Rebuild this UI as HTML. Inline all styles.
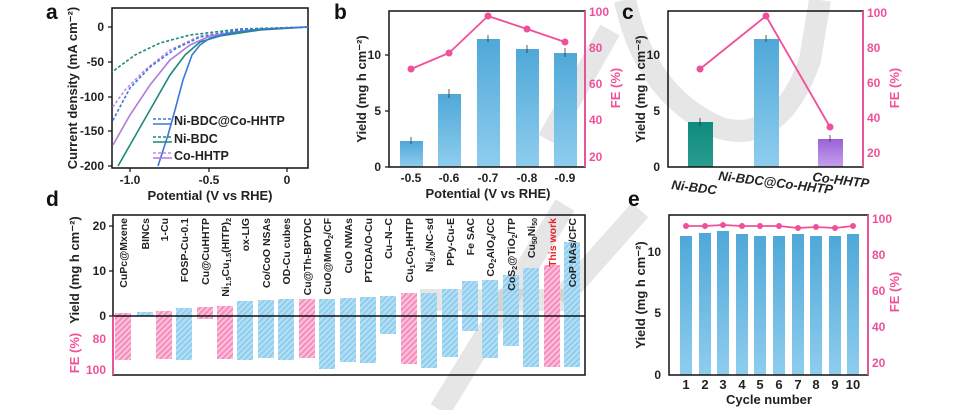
<!DOCTYPE html>
<html><head><meta charset="utf-8"><style>
html,body{margin:0;padding:0;background:#fff;}
svg{display:block;font-family:"Liberation Sans",Arial,sans-serif;}
.t{font-size:12px;font-weight:bold;fill:#222;}
.p{font-size:12px;font-weight:bold;fill:#f0509a;}
.lab{font-size:13px;font-weight:bold;fill:#222;}
.dl{font-size:10.5px;fill:#222;font-weight:bold;}
.L{font-size:21px;font-weight:bold;fill:#111;}
</style></head><body>
<svg width="963" height="410" viewBox="0 0 963 410" xmlns="http://www.w3.org/2000/svg">
<defs>
<linearGradient id="gb" x1="0" y1="0" x2="0" y2="1"><stop offset="0" stop-color="#4fa8d8"/><stop offset="1" stop-color="#8fcdee"/></linearGradient>
<linearGradient id="gt" x1="0" y1="0" x2="0" y2="1"><stop offset="0" stop-color="#0e8a7e"/><stop offset="1" stop-color="#2a9d8f"/></linearGradient>
<linearGradient id="gp" x1="0" y1="0" x2="0" y2="1"><stop offset="0" stop-color="#9a62d6"/><stop offset="1" stop-color="#c7a0ee"/></linearGradient>
<pattern id="hb" width="4" height="4" patternUnits="userSpaceOnUse" patternTransform="rotate(45)"><rect width="4" height="4" fill="#8fcdee"/><rect width="2" height="4" fill="#b5e0f5"/></pattern>
<pattern id="hp" width="4" height="4" patternUnits="userSpaceOnUse" patternTransform="rotate(45)"><rect width="4" height="4" fill="#f58cbc"/><rect width="2" height="4" fill="#fbc3dc"/></pattern>
</defs>

<!-- watermark -->
<g stroke="#9a9a9a" stroke-opacity="0.25" fill="none" stroke-width="22">
<path d="M625,0 Q645,95 720,128 Q780,145 810,60 L820,0"/>
<path d="M610,30 L548,140"/>
<path d="M565,205 L440,410"/>
<path d="M420,300 L570,300"/>
<path d="M640,210 L560,300"/>
</g>

<!-- ===== Panel a ===== -->
<text class="L" x="46" y="19">a</text>
<rect x="112" y="8" width="196" height="160" fill="none" stroke="#111" stroke-width="1.5"/>
<g class="t" text-anchor="end">
<text x="104" y="31">0</text><text x="104" y="66">-50</text><text x="104" y="101">-100</text><text x="104" y="135">-150</text><text x="104" y="170">-200</text></g>
<g stroke="#111" stroke-width="1.2"><line x1="108" y1="27" x2="112" y2="27"/><line x1="108" y1="62" x2="112" y2="62"/><line x1="108" y1="97" x2="112" y2="97"/><line x1="108" y1="131" x2="112" y2="131"/><line x1="108" y1="166" x2="112" y2="166"/>
<line x1="130" y1="168" x2="130" y2="172"/><line x1="209" y1="168" x2="209" y2="172"/><line x1="287" y1="168" x2="287" y2="172"/></g>
<g class="t" text-anchor="middle"><text x="130" y="184">-1.0</text><text x="209" y="184">-0.5</text><text x="287" y="184">0</text></g>
<text class="lab" x="210" y="200" text-anchor="middle">Potential (V vs RHE)</text>
<text class="lab" transform="translate(77,88) rotate(-90)" text-anchor="middle">Current density (mA cm⁻²)</text>
<g fill="none" stroke-width="1.6">
<polyline stroke="#1a8a7a" stroke-dasharray="3,2" points="308,27 240,29 190,35 160,43 135,55 112,72"/>
<polyline stroke="#c58ae6" stroke-dasharray="3,2" points="308,27 240,30 200,36 170,50 145,70 125,90 112,108"/>
<polyline stroke="#3a78d8" stroke-dasharray="3,2" points="308,27 240,30 200,37 175,49 150,67 130,88 112,122"/>
<polyline stroke="#b07ae0" points="308,27 250,30 210,36 190,45 170,60 150,85 130,115 113,145"/>
<polyline stroke="#1a8a7a" points="308,27 260,30 220,36 200,42 185,55 170,75 150,110 130,145 118,166"/>
<polyline stroke="#3a78d8" points="308,27 260,29 230,33 210,38 200,45 192,55 183,80 175,110 168,135 158,166"/>
</g>
<g stroke-width="1.6">
<line x1="153" y1="119" x2="172" y2="119" stroke="#3a78d8" stroke-dasharray="3,2"/><line x1="153" y1="124" x2="172" y2="124" stroke="#3a78d8"/>
<line x1="153" y1="137" x2="172" y2="137" stroke="#1a8a7a" stroke-dasharray="3,2"/><line x1="153" y1="142" x2="172" y2="142" stroke="#1a8a7a"/>
<line x1="153" y1="153" x2="172" y2="153" stroke="#c58ae6" stroke-dasharray="3,2"/><line x1="153" y1="158" x2="172" y2="158" stroke="#b07ae0"/>
</g>
<g style="font-size:12.5px;font-weight:bold;fill:#222"><text x="174" y="125">Ni-BDC@Co-HHTP</text><text x="174" y="143">Ni-BDC</text><text x="174" y="160">Co-HHTP</text></g>

<!-- ===== Panel b ===== -->
<text class="L" x="334" y="19">b</text>
<g fill="url(#gb)">
<rect x="400" y="141" width="23" height="26"/><rect x="438" y="94" width="23" height="73"/><rect x="477" y="39" width="23" height="128"/><rect x="516" y="49" width="23" height="118"/><rect x="554" y="53" width="23" height="114"/></g>
<g stroke="#333" stroke-width="0.8"><line x1="411" y1="137" x2="411" y2="144"/><line x1="449" y1="89" x2="449" y2="98"/><line x1="488" y1="35" x2="488" y2="42"/><line x1="527" y1="45" x2="527" y2="53"/><line x1="565" y1="48" x2="565" y2="57"/></g>
<rect x="389" y="11" width="196" height="156" fill="none" stroke="#111" stroke-width="1.5"/>
<line x1="585" y1="11" x2="585" y2="167" stroke="#f0509a" stroke-width="1.8"/>
<g stroke="#111" stroke-width="1.2"><line x1="385" y1="167" x2="389" y2="167"/><line x1="385" y1="111" x2="389" y2="111"/><line x1="385" y1="55" x2="389" y2="55"/></g>
<g class="t" text-anchor="end"><text x="381" y="171">0</text><text x="381" y="115">5</text><text x="381" y="59">10</text></g>
<g class="t" text-anchor="middle"><text x="411" y="182">-0.5</text><text x="449" y="182">-0.6</text><text x="488" y="182">-0.7</text><text x="527" y="182">-0.8</text><text x="565" y="182">-0.9</text></g>
<text class="lab" x="488" y="198" text-anchor="middle">Potential (V vs RHE)</text>
<text class="lab" transform="translate(366,89) rotate(-90)" text-anchor="middle">Yield (mg h cm⁻²)</text>
<g class="p"><text x="589" y="16">100</text><text x="589" y="52">80</text><text x="589" y="88">60</text><text x="589" y="124">40</text><text x="589" y="161">20</text></g>
<text class="lab" style="fill:#f0509a" transform="translate(620,88) rotate(-90)" text-anchor="middle">FE (%)</text>
<polyline fill="none" stroke="#f0509a" stroke-width="1.8" points="411,69 449,53 488,16 527,29 565,42"/>
<g fill="#f0509a"><circle cx="411" cy="69" r="3.5"/><circle cx="449" cy="53" r="3.5"/><circle cx="488" cy="16" r="3.5"/><circle cx="527" cy="29" r="3.5"/><circle cx="565" cy="42" r="3.5"/></g>

<!-- ===== Panel c ===== -->
<text class="L" x="622" y="19">c</text>
<rect x="688" y="122" width="25" height="45" fill="url(#gt)"/>
<rect x="754" y="39" width="25" height="128" fill="url(#gb)"/>
<rect x="818" y="139" width="25" height="28" fill="url(#gp)"/>
<g stroke="#333" stroke-width="0.8"><line x1="700" y1="118" x2="700" y2="126"/><line x1="766" y1="35" x2="766" y2="42"/><line x1="830" y1="135" x2="830" y2="142"/></g>
<rect x="668" y="11" width="195" height="156" fill="none" stroke="#111" stroke-width="1.5"/>
<line x1="863" y1="11" x2="863" y2="167" stroke="#f0509a" stroke-width="1.8"/>
<g class="t" text-anchor="end"><text x="660" y="171">0</text><text x="660" y="115">5</text><text x="660" y="59">10</text></g>
<g class="p"><text x="867" y="17">100</text><text x="867" y="52">80</text><text x="867" y="87">60</text><text x="867" y="122">40</text><text x="867" y="157">20</text></g>
<text class="lab" transform="translate(645,89) rotate(-90)" text-anchor="middle">Yield (mg h cm⁻²)</text>
<text class="lab" style="fill:#f0509a" transform="translate(899,88) rotate(-90)" text-anchor="middle">FE (%)</text>
<polyline fill="none" stroke="#f0509a" stroke-width="1.8" points="700,69 766,16 830,127"/>
<g fill="#f0509a"><circle cx="700" cy="69" r="3.5"/><circle cx="766" cy="16" r="3.5"/><circle cx="830" cy="127" r="3.5"/></g>
<g style="font-size:13px;font-weight:bold;font-style:italic;fill:#222">
<text transform="translate(671,189) rotate(7)">Ni-BDC</text>
<text transform="translate(718,180) rotate(7)">Ni-BDC@Co-HHTP</text>
<text transform="translate(812,181) rotate(7)">Co-HHTP</text></g>

<!-- ===== Panel d ===== -->
<text class="L" x="46" y="206">d</text>
<g>
<rect x="115" y="313" width="16" height="47" fill="url(#hp)"/>
<rect x="137" y="312" width="16" height="4" fill="url(#hb)"/>
<rect x="156" y="311" width="16" height="48" fill="url(#hp)"/>
<rect x="176" y="308" width="16" height="52" fill="url(#hb)"/>
<rect x="197" y="307" width="16" height="12" fill="url(#hp)"/>
<rect x="217" y="306" width="16" height="53" fill="url(#hp)"/>
<rect x="237" y="301" width="16" height="59" fill="url(#hb)"/>
<rect x="258" y="300" width="16" height="58" fill="url(#hb)"/>
<rect x="278" y="299" width="16" height="61" fill="url(#hb)"/>
<rect x="299" y="299" width="16" height="59" fill="url(#hp)"/>
<rect x="319" y="299" width="16" height="70" fill="url(#hb)"/>
<rect x="340" y="298" width="16" height="64" fill="url(#hb)"/>
<rect x="360" y="297" width="16" height="66" fill="url(#hb)"/>
<rect x="380" y="296" width="16" height="38" fill="url(#hb)"/>
<rect x="401" y="293" width="16" height="71" fill="url(#hp)"/>
<rect x="421" y="293" width="16" height="75" fill="url(#hb)"/>
<rect x="442" y="289" width="16" height="68" fill="url(#hb)"/>
<rect x="462" y="281" width="16" height="50" fill="url(#hb)"/>
<rect x="482" y="280" width="16" height="78" fill="url(#hb)"/>
<rect x="503" y="275" width="16" height="71" fill="url(#hb)"/>
<rect x="523" y="268" width="16" height="99" fill="url(#hb)"/>
<rect x="544" y="265" width="16" height="102" fill="url(#hp)"/>
<rect x="564" y="242" width="16" height="125" fill="url(#hb)"/>
</g>
<rect x="113" y="215" width="472" height="160" fill="none" stroke="#111" stroke-width="1.5"/>
<line x1="113" y1="316" x2="585" y2="316" stroke="#111" stroke-width="1.6"/>
<line x1="113" y1="316" x2="113" y2="375" stroke="#f0509a" stroke-width="1.8"/>
<g stroke="#111" stroke-width="1.2"><line x1="109" y1="226" x2="113" y2="226"/><line x1="109" y1="271" x2="113" y2="271"/><line x1="109" y1="316" x2="113" y2="316"/></g>
<g class="t" text-anchor="end"><text x="106" y="230">20</text><text x="106" y="275">10</text><text x="106" y="320">0</text></g>
<g class="p" text-anchor="end"><text x="106" y="343">80</text><text x="106" y="374">100</text></g>
<text class="lab" transform="translate(79,270) rotate(-90)" text-anchor="middle">Yield (mg h cm⁻²)</text>
<text class="lab" style="fill:#f0509a" transform="translate(79,353) rotate(-90)" text-anchor="middle">FE (%)</text>
<g class="dl" text-anchor="end">
<text transform="translate(127,218) rotate(-90)">CuPc@Mxene</text>
<text transform="translate(149,218) rotate(-90)">BINCs</text>
<text transform="translate(168,218) rotate(-90)">1-Cu</text>
<text transform="translate(188,218) rotate(-90)">FOSP-Cu-0.1</text>
<text transform="translate(209,218) rotate(-90)">Cu@CuHHTP</text>
<text transform="translate(229,218) rotate(-90)">Ni<tspan font-size="7" dy="2">1.5</tspan><tspan dy="-2">Cu</tspan><tspan font-size="7" dy="2">1.5</tspan><tspan dy="-2">(HITP)</tspan><tspan font-size="7" dy="2">2</tspan></text>
<text transform="translate(249,218) rotate(-90)">ox-LIG</text>
<text transform="translate(270,218) rotate(-90)">Co/CoO NSAs</text>
<text transform="translate(290,218) rotate(-90)">OD-Cu cubes</text>
<text transform="translate(311,218) rotate(-90)">Cu@Th-BPYDC</text>
<text transform="translate(331,218) rotate(-90)">CuO@MnO<tspan font-size="7" dy="2">2</tspan><tspan dy="-2">/CF</tspan></text>
<text transform="translate(352,218) rotate(-90)">CuO NWAs</text>
<text transform="translate(372,218) rotate(-90)">PTCDA/O-Cu</text>
<text transform="translate(392,218) rotate(-90)">Cu–N–C</text>
<text transform="translate(413,218) rotate(-90)">Cu<tspan font-size="7" dy="2">1</tspan><tspan dy="-2">Co</tspan><tspan font-size="7" dy="2">1</tspan><tspan dy="-2">HHTP</tspan></text>
<text transform="translate(433,218) rotate(-90)">Ni<tspan font-size="7" dy="2">3.0</tspan><tspan dy="-2">/NC-sd</tspan></text>
<text transform="translate(454,218) rotate(-90)">PPy-Cu-E</text>
<text transform="translate(474,218) rotate(-90)">Fe SAC</text>
<text transform="translate(494,218) rotate(-90)">Co<tspan font-size="7" dy="2">2</tspan><tspan dy="-2">AlO</tspan><tspan font-size="7" dy="2">4</tspan><tspan dy="-2">/CC</tspan></text>
<text transform="translate(515,218) rotate(-90)">CoS<tspan font-size="7" dy="2">2</tspan><tspan dy="-2">@TiO</tspan><tspan font-size="7" dy="2">2</tspan><tspan dy="-2">/TP</tspan></text>
<text transform="translate(535,218) rotate(-90)">Cu<tspan font-size="7" dy="2">50</tspan><tspan dy="-2">Ni</tspan><tspan font-size="7" dy="2">50</tspan></text>
<text transform="translate(556,218) rotate(-90)" style="fill:#e8202a">This work</text>
<text transform="translate(576,218) rotate(-90)">CoP NAs/CFC</text>
</g>

<!-- ===== Panel e ===== -->
<text class="L" x="628" y="206">e</text>
<g fill="url(#gb)">
<rect x="680" y="236" width="12" height="139"/><rect x="699" y="233" width="12" height="142"/><rect x="717" y="231" width="12" height="144"/><rect x="736" y="234" width="12" height="141"/><rect x="754" y="236" width="12" height="139"/><rect x="773" y="236" width="12" height="139"/><rect x="792" y="234" width="12" height="141"/><rect x="810" y="236" width="12" height="139"/><rect x="829" y="236" width="12" height="139"/><rect x="847" y="234" width="12" height="141"/></g>
<rect x="669" y="215" width="199" height="160" fill="none" stroke="#111" stroke-width="1.5"/>
<line x1="868" y1="215" x2="868" y2="375" stroke="#f0509a" stroke-width="1.8"/>
<g class="t" text-anchor="end"><text x="661" y="379">0</text><text x="661" y="317">5</text><text x="661" y="256">10</text></g>
<g class="p"><text x="872" y="223">100</text><text x="872" y="259">80</text><text x="872" y="295">60</text><text x="872" y="331">40</text><text x="872" y="367">20</text></g>
<g class="t" text-anchor="middle" style="font-size:13px"><text x="686" y="389">1</text><text x="705" y="389">2</text><text x="723" y="389">3</text><text x="742" y="389">4</text><text x="760" y="389">5</text><text x="779" y="389">6</text><text x="798" y="389">7</text><text x="816" y="389">8</text><text x="835" y="389">9</text><text x="853" y="389">10</text></g>
<text class="lab" x="769" y="404" text-anchor="middle">Cycle number</text>
<text class="lab" transform="translate(645,295) rotate(-90)" text-anchor="middle">Yield (mg h cm⁻²)</text>
<text class="lab" style="fill:#f0509a" transform="translate(899,292) rotate(-90)" text-anchor="middle">FE (%)</text>
<polyline fill="none" stroke="#f0509a" stroke-width="1.8" points="686,226 705,226 723,225 742,226 760,226 779,226 798,228 816,227 835,228 853,226"/>
<g fill="#f0509a"><circle cx="686" cy="226" r="3"/><circle cx="705" cy="226" r="3"/><circle cx="723" cy="225" r="3"/><circle cx="742" cy="226" r="3"/><circle cx="760" cy="226" r="3"/><circle cx="779" cy="226" r="3"/><circle cx="798" cy="228" r="3"/><circle cx="816" cy="227" r="3"/><circle cx="835" cy="228" r="3"/><circle cx="853" cy="226" r="3"/></g>
</svg>
</body></html>
